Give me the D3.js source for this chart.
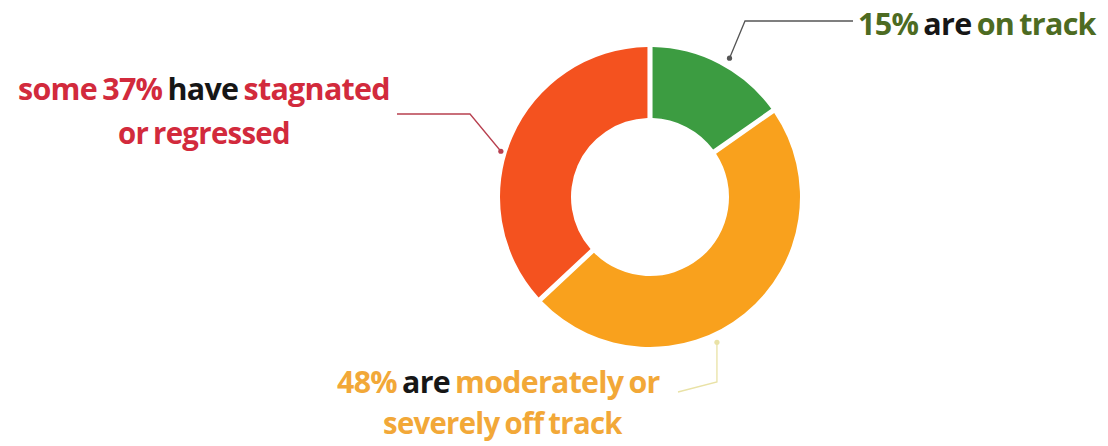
<!DOCTYPE html>
<html>
<head>
<meta charset="utf-8">
<script src="https://cdn.jsdelivr.net/npm/d3@7"></script>
<style>
  html, body { margin: 0; padding: 0; background: #ffffff; }
  svg { display: block; }
  text { font-family: "Open Sans", Lato, sans-serif; font-weight: 700; letter-spacing: -0.7px; word-spacing: -2px; }
</style>
</head>
<body>
<svg id="chart" width="1108" height="446"></svg>
<script>
// Share of countries by progress status
const categories = ["on track", "moderately or severely off track", "stagnated or regressed"];
const shares = [15, 48, 37];
const sliceColors = ["#3c9c41", "#f9a11d", "#f4521f"];

// Label lines: each is a list of [text, colour] runs
const labelLines = [
  { cat: 0, runs: [["15%", "#4d6b22"], [" are ", "#161616"], ["on track", "#4d6b22"]] },
  { cat: 2, runs: [["some 37%", "#d22a3c"], [" have ", "#161616"], ["stagnated", "#d22a3c"]] },
  { cat: 2, runs: [["or regressed", "#d22a3c"]] },
  { cat: 1, runs: [["48%", "#f2a838"], [" are ", "#161616"], ["moderately or", "#f2a838"]] },
  { cat: 1, runs: [["severely off track", "#f2a838"]] }
];

const svg = d3.select("#chart");
const cx = 650, cy = 197;
const outerR = 150, innerR = 79;

const pie = d3.pie().sort(null).value(d => d).padAngle(0.03);
const arc = d3.arc().innerRadius(innerR).outerRadius(outerR);

const g = svg.append("g").attr("transform", `translate(${cx},${cy})`);
const arcs = pie(shares);
g.selectAll("path.slice")
  .data(arcs)
  .join("path")
  .attr("class", "slice")
  .attr("d", arc)
  .attr("fill", (d, i) => sliceColors[i]);

// Leader lines: a dot just outside the ring, then an elbow to the label
const edge = (a, r) => [cx + r * Math.sin(a), cy - r * Math.cos(a)];
const line = d3.line();

function leader(points, color) {
  svg.append("path").attr("d", line(points))
    .attr("fill", "none").attr("stroke", color).attr("stroke-width", 1.3);
  svg.append("circle").attr("cx", points[0][0]).attr("cy", points[0][1])
    .attr("r", 2.6).attr("fill", color);
}

const gP = edge(0.52, outerR + 10);
leader([gP, [745, 21], [853, 21]], "#555555");

const rP = edge(5.01, outerR + 6);
leader([rP, [470, 114], [397, 114]], "#b8404f");

const oP = edge(2.71, outerR + 10);
leader([oP, [oP[0], 382], [678, 392]], "#e9e2a6");

// Text labels, each line stretched to its span [left, right]
const layout = [
  { left: 858, right: 1097, y: 35 },
  { left: 18, right: 390, y: 100 },
  { left: 118, right: 290, y: 144 },
  { left: 337, right: 660, y: 393 },
  { left: 383, right: 623, y: 434 }
];

labelLines.forEach((ln, i) => {
  const L = layout[i];
  const holder = svg.append("g");
  const t = holder.append("text")
    .attr("x", 0).attr("y", 0)
    .attr("font-size", 30)
    .style("white-space", "pre");
  ln.runs.forEach(r => t.append("tspan").attr("fill", r[1]).text(r[0]));
  const bb = t.node().getBBox();
  const sx = (L.right - L.left) / bb.width;
  holder.attr("transform", `translate(${L.left - bb.x * sx},${L.y}) scale(${sx},1)`);
});
</script>
</body>
</html>
